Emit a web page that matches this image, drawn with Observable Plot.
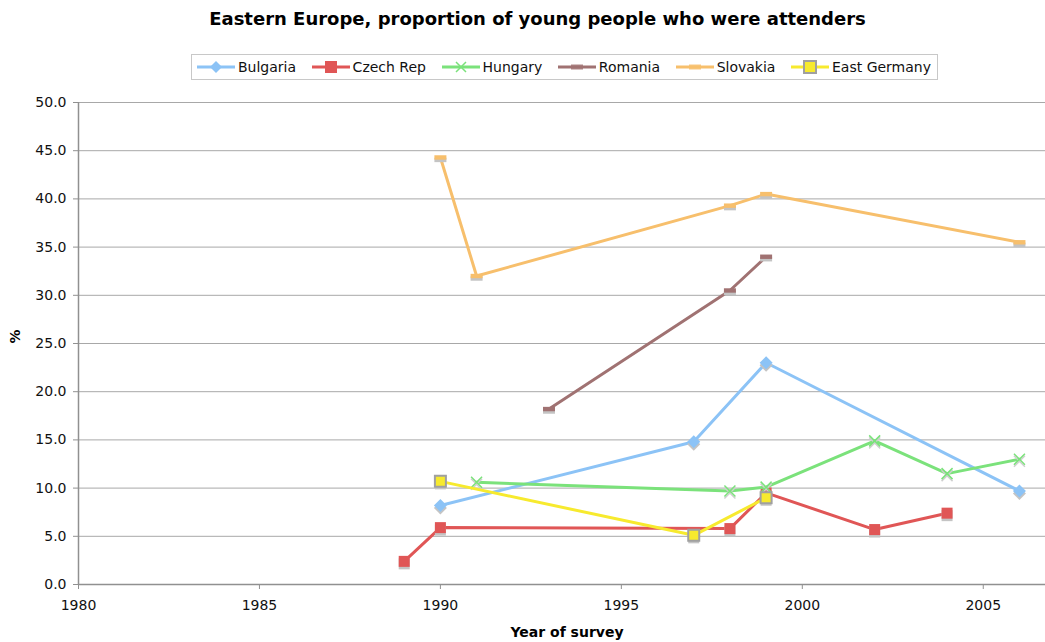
<!DOCTYPE html>
<html>
<head>
<meta charset="utf-8">
<script src="https://cdn.jsdelivr.net/npm/d3@7"></script>
<script src="https://cdn.jsdelivr.net/npm/@observablehq/plot@0.6"></script>
<style>
  html, body { margin: 0; padding: 0; background: #fff; overflow: hidden; width: 1045px; height: 642px; }
  body { font-family: "DejaVu Sans", Verdana, sans-serif; position: relative; }
  #title { position: absolute; top: 7px; left: 0; width: 1075px; text-align: center; font-weight: bold; font-size: 18px; line-height: 24px; color: #000; }
  #legend { position: absolute; top: 54px; left: 191px; width: 735px; height: 24px; border: 1px solid #c8c8c8; display: flex; align-items: center; justify-content: space-between; padding: 0 6px 0 4px; font-size: 14px; color: #111; white-space: nowrap; }
  .item { display: flex; align-items: center; }
  .item svg { margin-right: 2px; }
  #chart { position: absolute; top: 90px; left: 0; width: 1045px; overflow: hidden; }
</style>
</head>
<body>
<div id="title">Eastern Europe, proportion of young people who were attenders</div>
<div id="legend"></div>
<div id="chart"></div>
<script>
// ---- data ----
const seriesNames = ["Bulgaria", "Czech Rep", "Hungary", "Romania", "Slovakia", "East Germany"];
const seriesColors = ["#8cc3f6", "#e05656", "#7be27b", "#a07272", "#f7bf6c", "#f7ea2e"];
const seriesSymbols = ["diamond", "square", "times", "bar", "bar", "boxsquare"];

const bulgariaYears = [1990, 1997, 1999, 2006];
const bulgariaValues = [8.2, 14.8, 23.0, 9.7];
const czechYears = [1989, 1990, 1998, 1999, 2002, 2004];
const czechValues = [2.4, 5.9, 5.8, 9.5, 5.7, 7.4];
const hungaryYears = [1991, 1998, 1999, 2002, 2004, 2006];
const hungaryValues = [10.6, 9.7, 10.1, 14.9, 11.5, 13.0];
const romaniaYears = [1993, 1998, 1999];
const romaniaValues = [18.2, 30.5, 34.0];
const slovakiaYears = [1990, 1991, 1998, 1999, 2006];
const slovakiaValues = [44.3, 32.0, 39.3, 40.5, 35.5];
const eastGermanyYears = [1990, 1997, 1999];
const eastGermanyValues = [10.7, 5.1, 9.0];

const xTicks = [1980, 1985, 1990, 1995, 2000, 2005];
const yTicks = [0, 5, 10, 15, 20, 25, 30, 35, 40, 45, 50];

// ---- build table ----
const yearLists = [bulgariaYears, czechYears, hungaryYears, romaniaYears, slovakiaYears, eastGermanyYears];
const valueLists = [bulgariaValues, czechValues, hungaryValues, romaniaValues, slovakiaValues, eastGermanyValues];
const rows = [];
seriesNames.forEach((s, i) => {
  yearLists[i].forEach((yr, j) => rows.push({series: s, year: yr, value: valueLists[i][j]}));
});

// custom symbols
const barSymbol = { draw(ctx, size) { const w = 6, h = 2.2; ctx.rect(-w, -h, 2 * w, 2 * h); } };
const squareSymbol = { draw(ctx, size) { const w = 5.5; ctx.rect(-w, -w, 2 * w, 2 * w); } };
const diamondSymbol = { draw(ctx, size) { const r = 6.5; ctx.moveTo(0, -r); ctx.lineTo(r, 0); ctx.lineTo(0, r); ctx.lineTo(-r, 0); ctx.closePath(); } };
const timesSymbol = { draw(ctx, size) { const r = 5.5; ctx.moveTo(-r, -r); ctx.lineTo(r, r); ctx.moveTo(r, -r); ctx.lineTo(-r, r); } };

const marks = [
  Plot.gridY(yTicks, {stroke: "#a8a8a8", strokeOpacity: 1, strokeWidth: 1}),
  Plot.ruleX([1980], {stroke: "#909090", strokeWidth: 1.5}),
  Plot.ruleY([0], {stroke: "#909090", strokeWidth: 1.5}),
];

seriesNames.forEach((s, i) => {
  const data = rows.filter(d => d.series === s);
  const color = seriesColors[i];
  marks.push(Plot.line(data, {x: "year", y: "value", stroke: color, strokeWidth: 3, strokeLinejoin: "round"}));
  const sym = seriesSymbols[i];
  if (sym === "times") {
    marks.push(Plot.dot(data, {x: "year", y: "value", symbol: timesSymbol, r: 5, stroke: "#cfcfcf", strokeWidth: 1.5, dy: 2}));
    marks.push(Plot.dot(data, {x: "year", y: "value", symbol: timesSymbol, r: 5, stroke: color, strokeWidth: 1.5}));
  } else {
    const symObj = sym === "diamond" ? diamondSymbol : sym === "bar" ? barSymbol : squareSymbol;
    marks.push(Plot.dot(data, {x: "year", y: "value", symbol: symObj, r: 5, fill: "#c4c4c4", stroke: "none", dy: 2.5}));
    if (sym === "boxsquare") {
      marks.push(Plot.dot(data, {x: "year", y: "value", symbol: squareSymbol, r: 5, fill: color, stroke: "#a0a0a0", strokeWidth: 2}));
    } else {
      marks.push(Plot.dot(data, {x: "year", y: "value", symbol: symObj, r: 5, fill: color, stroke: "none"}));
    }
  }
});

marks.push(Plot.axisY(yTicks, {tickFormat: d3.format(".1f"), tickSize: 5, tickPadding: 7, stroke: "#909090",
  label: null, fontSize: 14}));
marks.push(Plot.axisX(xTicks, {tickFormat: d => String(d), tickSize: 5, tickPadding: 11, stroke: "#909090",
  label: null, fontSize: 14}));
// axis titles
marks.push(Plot.text(["%"], {frameAnchor: "left", dx: -63, rotate: -90, fontWeight: "bold", fontSize: 14, fill: "#000"}));
marks.push(Plot.text(["Year of survey"], {frameAnchor: "bottom", dy: 52, dx: 5, fontWeight: "bold", fontSize: 14, fill: "#000"}));

const chart = Plot.plot({
  width: 1045,
  height: 552,
  marginTop: 12,
  marginBottom: 58,
  marginLeft: 78,
  marginRight: 0,
  style: {fontFamily: "DejaVu Sans, Verdana, sans-serif", fontSize: "14px", color: "#111", background: "#fff", overflow: "visible"},
  x: {domain: [1980, 2006.72]},
  y: {domain: [0, 50]},
  marks
});
document.getElementById("chart").appendChild(chart);

// ---- legend ----
const legend = document.getElementById("legend");
seriesNames.forEach((s, i) => {
  const item = document.createElement("div");
  item.className = "item";
  const ns = "http://www.w3.org/2000/svg";
  const svg = document.createElementNS(ns, "svg");
  svg.setAttribute("width", 40); svg.setAttribute("height", 16);
  const line = document.createElementNS(ns, "line");
  line.setAttribute("x1", 1); line.setAttribute("x2", 39); line.setAttribute("y1", 8); line.setAttribute("y2", 8);
  line.setAttribute("stroke", seriesColors[i]); line.setAttribute("stroke-width", 3);
  svg.appendChild(line);
  const sym = seriesSymbols[i];
  const p = document.createElementNS(ns, "path");
  const cx = 20, cy = 8;
  if (sym === "diamond") { p.setAttribute("d", `M${cx},${cy-6}L${cx+6},${cy}L${cx},${cy+6}L${cx-6},${cy}Z`); p.setAttribute("fill", seriesColors[i]); }
  else if (sym === "square") { p.setAttribute("d", `M${cx-6},${cy-6}h12v12h-12Z`); p.setAttribute("fill", seriesColors[i]); }
  else if (sym === "times") { p.setAttribute("d", `M${cx-5},${cy-5}L${cx+5},${cy+5}M${cx+5},${cy-5}L${cx-5},${cy+5}`); p.setAttribute("stroke", seriesColors[i]); p.setAttribute("stroke-width", 1.5); p.setAttribute("fill", "none"); }
  else if (sym === "bar") { p.setAttribute("d", `M${cx-6},${cy-2.5}h12v5h-12Z`); p.setAttribute("fill", seriesColors[i]); p.setAttribute("opacity", 0.85); }
  else { p.setAttribute("d", `M${cx-6},${cy-6}h12v12h-12Z`); p.setAttribute("fill", seriesColors[i]); p.setAttribute("stroke", "#a0a0a0"); p.setAttribute("stroke-width", 2); }
  svg.appendChild(p);
  item.appendChild(svg);
  const label = document.createElement("span");
  label.textContent = s;
  item.appendChild(label);
  legend.appendChild(item);
});
</script>
</body>
</html>
